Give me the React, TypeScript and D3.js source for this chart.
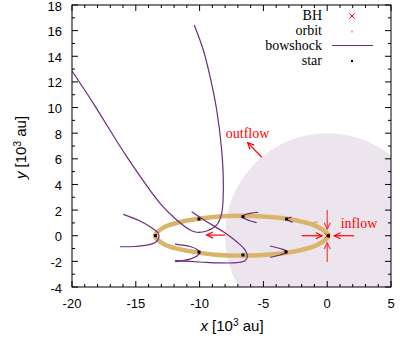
import React from 'react';
import * as d3 from 'd3';

type P = [number, number];

const xTickValues = [-20, -15, -10, -5, 0, 5];
const yTickValues = [-4, -2, 0, 2, 4, 6, 8, 10, 12, 14, 16, 18];
const legendLabels = ['BH', 'orbit', 'bowshock', 'star'];

const bhPos: P[] = [[0, 0]];
const outflowCenter: P = [0, 0];
const outflowRadius = 8;

const stars: P[] = [
  [0.1, 0], [-3.18, 1.3], [-6.6, 1.48], [-10.05, 1.3], [-13.46, 0],
  [-10.05, -1.27], [-6.6, -1.5], [-3.23, -1.27],
];

const orbit: P[] = [
  [0.1, 0], [-0.8, 0.72], [-2, 1.1], [-3.2, 1.33], [-5, 1.5], [-6.7, 1.55],
  [-8.5, 1.5], [-10.1, 1.32], [-11.6, 1.05], [-12.8, 0.65], [-13.5, 0],
  [-12.8, -0.65], [-11.6, -1.05], [-10.1, -1.32], [-8.5, -1.5], [-6.7, -1.55],
  [-5, -1.5], [-3.2, -1.33], [-2, -1.1], [-0.8, -0.72],
];

const bowA: P[] = [
  [-20.0, 12.85], [-18.33, 10.33], [-15.71, 6.17], [-13.1, 2.53], [-11.79, 1.23],
  [-10.75, 0.45], [-10.23, 0.27], [-9.44, 0.37], [-8.66, 0.84], [-8.27, 1.75],
  [-8.14, 3.82], [-8.27, 6.69], [-8.66, 9.81], [-9.18, 12.41], [-9.71, 14.49],
  [-10.42, 16.44],
];
const bowB: P[] = [
  [-10.62, 1.87], [-9.44, 1.09], [-8.14, 0.31], [-7.09, -0.47], [-6.44, -1.11],
  [-6.26, -1.64], [-6.44, -1.95], [-7.09, -2.1], [-8.4, -2.12], [-9.97, -2.05],
  [-11.93, -1.95],
];
const bowC: P[] = [
  [-11.93, -0.65], [-10.75, -0.84], [-10.2, -1.07], [-9.97, -1.31],
  [-10.2, -1.58], [-10.75, -1.82], [-11.93, -2.03],
];
const bowD: P[] = [
  [-15.98, 1.67], [-14.67, 1.15], [-13.73, 0.6], [-13.26, 0.21], [-13.18, -0.1],
  [-13.42, -0.49], [-14.05, -0.72], [-15.06, -0.84], [-16.24, -0.86],
];
const bowE: P[] = [[-5.4, 1.83], [-6.05, 1.75], [-6.68, 1.5], [-6.13, 1.19], [-5.53, 1.02]];
const bowF: P[] = [[-2.8, 1.45], [-3.1, 1.36], [-3.2, 1.3], [-3.0, 1.18], [-2.7, 1.05]];
const bowG: P[] = [[-4.48, -0.8], [-3.7, -1.0], [-3.15, -1.23], [-3.7, -1.5], [-4.48, -1.68]];
const bowshocks: P[][] = [bowA, bowB, bowC, bowD, bowE, bowF, bowG];

// arrows: [from, to] in data coordinates
const redArrows: [P, P][] = [
  [[-5.13, 6.12], [-6.23, 7.26]],
  [[-2.0, 0], [-0.4, 0]],
  [[2.1, 0], [0.55, 0]],
  [[0, 2.0], [0, 0.52]],
  [[0, -2.05], [0, -0.55]],
  [[-8.0, 0.05], [-9.45, 0.05]],
];
const orbitArrow: [P, P] = [[-0.6, 0.75], [-1.2, 1.0]];

const labels = [
  { text: 'outflow', pos: [-7.95, 7.6] as P },
  { text: 'inflow', pos: [1.06, 0.6] as P },
];

const GOLD = '#dbb46b';
const PURPLE = '#6c2b80';
const RED = '#ff0000';

function head(x1: number, y1: number, x2: number, y2: number, len = 7, ang = 0.45) {
  const a = Math.atan2(y2 - y1, x2 - x1);
  const p1 = [x2 - len * Math.cos(a - ang), y2 - len * Math.sin(a - ang)];
  const p2 = [x2 - len * Math.cos(a + ang), y2 - len * Math.sin(a + ang)];
  return `M${p1[0]},${p1[1]}L${x2},${y2}L${p2[0]},${p2[1]}`;
}

export default function App() {
  const L = 72, R = 391, T = 5, B = 287;
  const x = d3.scaleLinear().domain([-20, 5]).range([L, R]);
  const y = d3.scaleLinear().domain([-4, 18]).range([B, T]);
  const line = d3.line<P>().x(d => x(d[0])).y(d => y(d[1])).curve(d3.curveCatmullRom.alpha(0.5));
  const closed = d3.line<P>().x(d => x(d[0])).y(d => y(d[1])).curve(d3.curveCatmullRomClosed.alpha(0.5));

  const xMinor = d3.range(-20, 5.01, 1);
  const yMinor = d3.range(-4, 18.01, 1);
  const sans = 'Liberation Sans, Arial, sans-serif';
  const serif = 'Liberation Serif, Times New Roman, serif';

  const legX = 322;
  const legY = [20, 35, 50, 64.5];
  const symX = 352;

  return (
    <svg width={400} height={347} style={{ position: 'absolute', left: 0, top: 0, background: '#fff' }}>
      <defs>
        <clipPath id="plot"><rect x={L} y={T} width={R - L} height={B - T} /></clipPath>
      </defs>
      <g clipPath="url(#plot)">
        <ellipse cx={x(outflowCenter[0])} cy={y(outflowCenter[1])}
          rx={x(outflowRadius) - x(0)} ry={y(0) - y(outflowRadius)} fill="#ece5ee" />
        <path d={closed(orbit) || ''} fill="none" stroke={GOLD} strokeWidth={4.5} />
        <path d={head(x(orbitArrow[0][0]), y(orbitArrow[0][1]), x(orbitArrow[1][0]), y(orbitArrow[1][1]), 6, 0.6)}
          fill="none" stroke={GOLD} strokeWidth={1.5} />
        {bowshocks.map((b, i) => (
          <path key={i} d={line(b) || ''} fill="none" stroke={PURPLE} strokeWidth={1.2} />
        ))}
        {bhPos.map((d, i) => (
          <path key={i} d={`M${x(d[0]) - 2.5},${y(d[1]) - 2.5}l5,5M${x(d[0]) - 2.5},${y(d[1]) + 2.5}l5,-5`}
            stroke={RED} strokeWidth={1} />
        ))}
        {stars.map((d, i) => (
          <rect key={i} x={x(d[0]) - 1.5} y={y(d[1]) - 1.5} width={3} height={3} fill="#000" />
        ))}
        {redArrows.map(([a, b], i) => (
          <g key={i} stroke={RED} strokeWidth={1.2} fill="none" opacity={i === 3 || i === 4 ? 0.75 : 1}>
            <line x1={x(a[0])} y1={y(a[1])} x2={x(b[0])} y2={y(b[1])} />
            <path d={head(x(a[0]), y(a[1]), x(b[0]), y(b[1]))} />
          </g>
        ))}
        {labels.map(l => (
          <text key={l.text} x={x(l.pos[0])} y={y(l.pos[1])} fill={RED} fontFamily={serif} fontSize={14}>{l.text}</text>
        ))}
      </g>

      {/* ticks */}
      <g stroke="#000" strokeWidth={1}>
        {xMinor.map(v => {
          const len = xTickValues.includes(v) ? 6 : 3;
          return (
            <g key={'x' + v}>
              <line x1={x(v)} x2={x(v)} y1={B} y2={B - len} />
              <line x1={x(v)} x2={x(v)} y1={T} y2={T + len} />
            </g>
          );
        })}
        {yMinor.map(v => {
          const len = yTickValues.includes(v) ? 6 : 3;
          return (
            <g key={'y' + v}>
              <line x1={L} x2={L + len} y1={y(v)} y2={y(v)} />
              <line x1={R} x2={R - len} y1={y(v)} y2={y(v)} />
            </g>
          );
        })}
      </g>
      <rect x={L} y={T} width={R - L} height={B - T} fill="none" stroke="#000" strokeWidth={1} />

      {xTickValues.map(v => (
        <text key={'xl' + v} x={x(v)} y={308} textAnchor="middle" fontFamily={sans} fontSize={13}>{v}</text>
      ))}
      {yTickValues.map(v => (
        <text key={'yl' + v} x={62} y={y(v) + 5.5} textAnchor="end" fontFamily={sans} fontSize={13}>{v}</text>
      ))}
      <text x={232} y={331} textAnchor="middle" fontFamily={sans} fontSize={15}>
        <tspan fontStyle="italic">x</tspan> [10<tspan dy={-5} fontSize={10}>3</tspan><tspan dy={5}> au]</tspan>
      </text>
      <text transform="translate(26,147.5) rotate(-90)" textAnchor="middle" fontFamily={sans} fontSize={15}>
        <tspan fontStyle="italic">y</tspan> [10<tspan dy={-5} fontSize={10}>3</tspan><tspan dy={5}> au]</tspan>
      </text>

      {/* legend */}
      {legendLabels.map((t, i) => (
        <text key={t} x={legX} y={legY[i]} textAnchor="end" fontFamily={serif} fontSize={14}>{t}</text>
      ))}
      <path d={`M${symX - 2.5},${legY[0] - 6.5}l5,5M${symX - 2.5},${legY[0] - 1.5}l5,-5`} stroke={RED} strokeWidth={1} />
      <rect x={symX - 1} y={legY[1] - 4.5} width={2} height={2} fill={GOLD} />
      <line x1={332} x2={373} y1={legY[2] - 4.5} y2={legY[2] - 4.5} stroke={PURPLE} strokeWidth={1.2} />
      <rect x={symX - 1} y={legY[3] - 4.5} width={2} height={2} fill="#000" />
    </svg>
  );
}
